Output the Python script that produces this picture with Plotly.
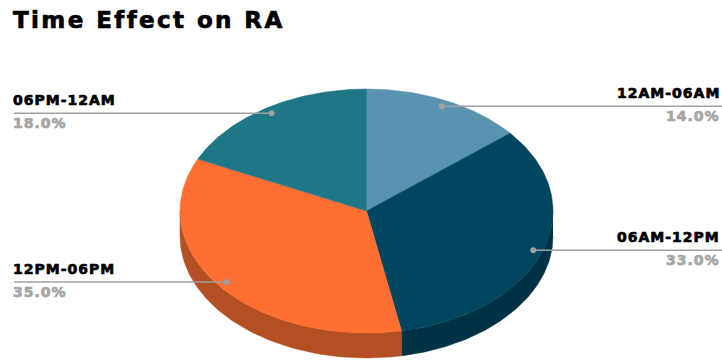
import numpy as np
import plotly.graph_objects as go

# Share of RA events by time of day
categories = ["12AM-06AM", "06AM-12PM", "12PM-06PM", "06PM-12AM"]
shares = [14.0, 33.0, 35.0, 18.0]
top_colors = ["#5A93B0", "#01465F", "#FF6F31", "#1F7686"]
side_colors = ["#3E6A80", "#003246", "#B35023", "#155560"]

W, H = 722, 360
CX, CY = 366.5, 211.0      # centre of the pie top
RX, RY = 186.5, 122.0      # ellipse radii of the pie top
DEPTH = 25.0               # thickness of the pie
FONT = "DejaVu Sans, Liberation Sans, sans-serif"


def heavy(text, color, spacing):
    """Wide, extra-heavy text: stroked glyphs with extra tracking."""
    return (f'<span style="letter-spacing:{spacing}px;stroke:{color};'
            f'stroke-width:0.7px">{text}</span>')


def ellipse_pt(theta_deg, r=1.0, dy=0.0):
    t = np.radians(theta_deg)
    return CX + RX * r * np.sin(t), CY - RY * r * np.cos(t) + dy


total = sum(shares)
bounds = np.concatenate([[0.0], np.cumsum(shares) / total * 360.0])

fig = go.Figure()

# Visible side walls (front half of the pie, 90..270 degrees clockwise from top)
for i, col in enumerate(side_colors):
    lo, hi = max(bounds[i], 90.0), min(bounds[i + 1], 270.0)
    if hi <= lo:
        continue
    ts = np.linspace(lo, hi, 80)
    xt, yt = ellipse_pt(ts)
    xb, yb = ellipse_pt(ts[::-1], dy=DEPTH)
    fig.add_trace(go.Scatter(
        x=np.concatenate([xt, xb]), y=np.concatenate([yt, yb]),
        fill="toself", fillcolor=col, mode="lines",
        line=dict(color=col, width=0.5), hoverinfo="skip", showlegend=False))

# Slice tops
for i, col in enumerate(top_colors):
    ts = np.linspace(bounds[i], bounds[i + 1], 120)
    xa, ya = ellipse_pt(ts)
    fig.add_trace(go.Scatter(
        x=np.concatenate([[CX], xa, [CX]]), y=np.concatenate([[CY], ya, [CY]]),
        fill="toself", fillcolor=col, mode="lines",
        line=dict(color=col, width=0.5), hoverinfo="skip", showlegend=False,
        name=categories[i]))

# Leader lines, dots and labels
annotations = []
for i, name in enumerate(categories):
    mid = (bounds[i] + bounds[i + 1]) / 2
    dx, dy_ = ellipse_pt(mid, r=0.95)
    right = np.sin(np.radians(mid)) >= 0
    x_end = W if right else 14
    fig.add_trace(go.Scatter(
        x=[dx, x_end], y=[dy_, dy_], mode="lines",
        line=dict(color="#A0A0A0", width=1.5), hoverinfo="skip", showlegend=False))
    fig.add_trace(go.Scatter(
        x=[dx], y=[dy_], mode="markers",
        marker=dict(color="#A0A0A0", size=6), hoverinfo="skip", showlegend=False))
    tx = 722 if right else 11
    anchor = "right" if right else "left"
    annotations.append(dict(
        x=tx, y=dy_ - 3, xref="x", yref="y", xanchor=anchor, yanchor="bottom",
        text=heavy(name, "#000000", 1), showarrow=False,
        font=dict(family=FONT, size=14, color="#000000", weight=700)))
    annotations.append(dict(
        x=tx, y=dy_, xref="x", yref="y", xanchor=anchor, yanchor="top",
        text=heavy(f"{shares[i] / total * 100:.1f}%", "#A5A5A5", 1), showarrow=False,
        font=dict(family=FONT, size=14, color="#A5A5A5", weight=700)))

annotations.append(dict(
    x=11, y=5, xref="x", yref="y", xanchor="left", yanchor="top",
    text=heavy("Time Effect on RA", "#000000", 2.4), showarrow=False,
    font=dict(family=FONT, size=23, color="#000000", weight=700)))

fig.update_layout(
    width=W, height=H,
    margin=dict(l=0, r=0, t=0, b=0),
    paper_bgcolor="white", plot_bgcolor="white",
    xaxis=dict(range=[0, W], visible=False, fixedrange=True),
    yaxis=dict(range=[H, 0], visible=False, fixedrange=True),
    annotations=annotations,
    showlegend=False,
)

fig.write_html("out.html")
